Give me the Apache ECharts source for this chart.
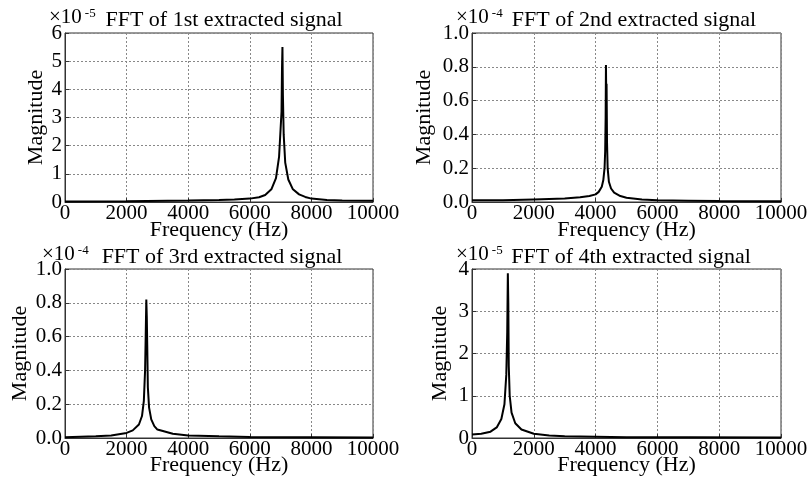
<!DOCTYPE html>
<html>
<head>
<meta charset="utf-8">
<script src="https://cdn.jsdelivr.net/npm/echarts@6/dist/echarts.min.js"></script>
<style>
html,body{margin:0;padding:0;background:#fff;}
#chart{width:811px;height:482px;}
</style>
</head>
<body>
<div id="chart"></div>
<script>
// ---- data (frequency in Hz, magnitude in units of the axis exponent) ----
var titles = ['FFT of 1st extracted signal','FFT of 2nd extracted signal','FFT of 3rd extracted signal','FFT of 4th extracted signal'];
var exponents = ['-5','-4','-4','-5'];
var xTicks = [0, 2000, 4000, 6000, 8000, 10000];
var yMax = [6, 1.0, 1.0, 4];
var yStep = [1, 0.2, 0.2, 1];

var signal1 = [[0,0.02],[2000,0.03],[4000,0.05],[5000,0.07],[5500,0.09],[6000,0.12],[6300,0.17],[6500,0.25],[6700,0.45],[6850,0.85],[6950,1.6],[7000,2.6],[7030,3.2],[7045,4.7],[7060,5.5],[7075,3.8],[7100,2.4],[7150,1.4],[7250,0.8],[7400,0.45],[7600,0.27],[7800,0.18],[8000,0.12],[8500,0.07],[9000,0.05],[10000,0.04]];
var signal2 = [[0,0.01],[1000,0.01],[2000,0.015],[3000,0.02],[3500,0.028],[3800,0.035],[4000,0.045],[4100,0.06],[4200,0.09],[4250,0.13],[4290,0.2],[4310,0.3],[4325,0.5],[4335,0.81],[4345,0.62],[4355,0.7],[4370,0.35],[4390,0.2],[4430,0.12],[4500,0.08],[4600,0.055],[4800,0.035],[5000,0.025],[5500,0.015],[6000,0.01],[7000,0.008],[8000,0.006],[10000,0.005]];
var signal3 = [[0,0.005],[1000,0.01],[1500,0.015],[2000,0.03],[2200,0.045],[2400,0.08],[2500,0.13],[2560,0.22],[2600,0.4],[2620,0.6],[2640,0.82],[2655,0.72],[2670,0.55],[2690,0.3],[2730,0.18],[2800,0.11],[2900,0.07],[3000,0.05],[3500,0.025],[4000,0.015],[5000,0.01],[6000,0.006],[8000,0.004],[10000,0.003]];
var signal4 = [[0,0.08],[300,0.1],[600,0.15],[800,0.25],[950,0.45],[1050,0.8],[1110,1.5],[1140,2.5],[1160,3.9],[1175,3.2],[1190,1.7],[1220,1.0],[1280,0.6],[1400,0.35],[1600,0.2],[2000,0.1],[2500,0.06],[3000,0.04],[4000,0.03],[5000,0.02],[7000,0.015],[10000,0.01]];
var signals = [signal1, signal2, signal3, signal4];

// ---- layout ----
var FONT = '"Liberation Serif","Times New Roman",serif';
var grids = [
  {left:65, top:33, width:308, height:169},
  {left:472, top:33, width:309, height:169},
  {left:65, top:269, width:308, height:169},
  {left:472, top:269, width:309, height:169}
];
var yNameGap = [18, 37, 34, 21];
var xNameGap = [17, 17, 16, 16];
var titleCenter = [[224,9],[634,9],[222,246],[631,246]];
var expPos = [[49,7],[456,7],[42,244],[456,244]];

var option = {
  animation: false,
  backgroundColor: '#fff',
  title: [],
  grid: [],
  xAxis: [],
  yAxis: [],
  series: []
};

for (var i = 0; i < 4; i++) {
  var g = grids[i];
  option.grid.push({left:g.left, top:g.top, width:g.width, height:g.height, show:true, borderColor:'#333', borderWidth:1, backgroundColor:'#fff', containLabel:false});
  option.title.push({
    text: titles[i], left: titleCenter[i][0], top: titleCenter[i][1], textAlign: 'center', padding: 0,
    textStyle: {fontFamily: FONT, fontSize: 22, fontWeight: 'normal', color: '#000'}
  });
  option.title.push({
    text: '{m|×10}{s|' + exponents[i] + '}', left: expPos[i][0], top: expPos[i][1], padding: 0,
    textStyle: {
      fontFamily: FONT, fontSize: 21, fontWeight: 'normal', color: '#000',
      rich: {
        m: {fontFamily: FONT, fontSize: 21, color: '#000'},
        s: {fontFamily: FONT, fontSize: 13, color: '#000', verticalAlign: 'top', padding: [0,0,0,3]}
      }
    }
  });
  (function(step){
  option.xAxis.push({
    gridIndex: i, type: 'value', min: xTicks[0], max: xTicks[xTicks.length-1], interval: xTicks[1]-xTicks[0],
    name: 'Frequency (Hz)', nameLocation: 'middle', nameGap: xNameGap[i], nameMoveOverlap: false,
    nameTextStyle: {fontFamily: FONT, fontSize: 22, color: '#000', verticalAlign: 'top'},
    axisLine: {show: true, onZero: false, lineStyle: {color: '#333', width: 1}},
    axisTick: {show: true, inside: true, length: 4, lineStyle: {color: '#333'}},
    axisLabel: {fontFamily: FONT, fontSize: 21, color: '#000', margin: 1, showMaxLabel: true, showMinLabel: true,
      formatter: function(v){ return String(v); }},
    splitLine: {show: true, lineStyle: {color: '#888', type: [2,2], width: 1}}
  });
  option.yAxis.push({
    gridIndex: i, type: 'value', min: 0, max: yMax[i], interval: step,
    name: 'Magnitude', nameLocation: 'middle', nameGap: yNameGap[i], nameRotate: 90, nameMoveOverlap: false,
    nameTextStyle: {fontFamily: FONT, fontSize: 22, color: '#000'},
    axisLine: {show: true, onZero: false, lineStyle: {color: '#333', width: 1}},
    axisTick: {show: true, inside: true, length: 4, lineStyle: {color: '#333'}},
    axisLabel: {fontFamily: FONT, fontSize: 21, color: '#000', margin: 3,
      formatter: function(v){ return step < 1 ? v.toFixed(1) : String(v); }},
    splitLine: {show: true, lineStyle: {color: '#888', type: [2,2], width: 1}}
  });
  })(yStep[i]);
  option.series.push({
    type: 'line', xAxisIndex: i, yAxisIndex: i, data: signals[i],
    showSymbol: false, symbol: 'none', smooth: false,
    lineStyle: {color: '#000', width: 2}
  });
}

var chart = echarts.init(document.getElementById('chart'));
chart.setOption(option);
</script>
</body>
</html>
